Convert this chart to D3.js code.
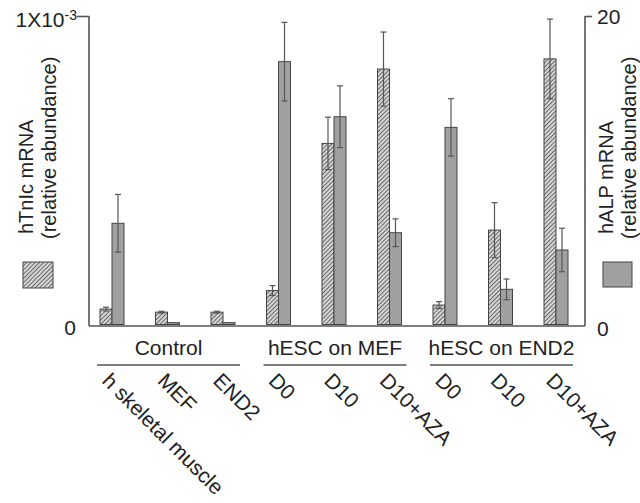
<!DOCTYPE html>
<html>
<head>
<meta charset="utf-8">
<script src="https://cdn.jsdelivr.net/npm/d3@7"></script>
<style>
  body { margin: 0; background: #fff; }
  text { font-family: "Liberation Sans", Arial, sans-serif; fill: #222; }
</style>
</head>
<body>
<script>
var categories = ["h skeletal muscle", "MEF", "END2", "D0", "D10", "D10+AZA", "D0", "D10", "D10+AZA"];
var groups = [
  {name: "Control", from: 0, to: 2},
  {name: "hESC on MEF", from: 3, to: 5},
  {name: "hESC on END2", from: 6, to: 8}
];
// hTnIc mRNA, relative abundance (x 1e-3)
var tnic = [0.050, 0.040, 0.040, 0.110, 0.587, 0.828, 0.063, 0.306, 0.861];
var tnicErr = [0.006, 0.003, 0.003, 0.016, 0.085, 0.120, 0.011, 0.089, 0.129];
// hALP mRNA, relative abundance
var alp = [6.56, 0.12, 0.12, 17.04, 13.47, 5.95, 12.78, 2.28, 4.83];
var alpErr = [1.87, 0, 0, 2.55, 2.0, 0.9, 1.86, 0.67, 1.41];

var width = 640, height = 503;
var top_y = 16, base_y = 324.5;
var bar_w = 12;

var svg = d3.select("body").append("svg")
    .attr("width", width).attr("height", height);

var defs = svg.append("defs");
var pat = defs.append("pattern")
    .attr("id", "hatch")
    .attr("patternUnits", "userSpaceOnUse")
    .attr("width", 3).attr("height", 3)
    .attr("patternTransform", "rotate(45)");
pat.append("rect").attr("width", 3).attr("height", 3).attr("fill", "#d6d6d6");
pat.append("line").attr("x1", 0).attr("y1", 0).attr("x2", 0).attr("y2", 3)
    .attr("stroke", "#383838").attr("stroke-width", 1.4);

var x = d3.scaleBand().domain(d3.range(categories.length)).range([84.25, 583.75]);
var yL = d3.scaleLinear().domain([0, 1e-3]).range([base_y, top_y]);
var yR = d3.scaleLinear().domain([0, 20]).range([base_y, top_y]);

function cx(i) { return x(i) + x.bandwidth() / 2; }

// bars
var g = svg.append("g");
g.selectAll("rect.tnic")
    .data(tnic)
    .enter().append("rect")
    .attr("class", "tnic")
    .attr("x", function(d, i) { return cx(i) - bar_w; })
    .attr("y", function(d) { return yL(d * 1e-3); })
    .attr("width", bar_w)
    .attr("height", function(d) { return base_y - yL(d * 1e-3); })
    .attr("fill", "url(#hatch)")
    .attr("stroke", "#444").attr("stroke-width", 1);

g.selectAll("rect.alp")
    .data(alp)
    .enter().append("rect")
    .attr("class", "alp")
    .attr("x", function(d, i) { return cx(i); })
    .attr("y", function(d) { return yR(d); })
    .attr("width", bar_w)
    .attr("height", function(d) { return base_y - yR(d); })
    .attr("fill", "#a0a0a0")
    .attr("stroke", "#444").attr("stroke-width", 1);

// error bars
function errBars(vals, errs, scale, mult, off) {
  vals.forEach(function(v, i) {
    var e = errs[i];
    if (!e) return;
    var xc = cx(i) + off;
    var y1 = scale((v + e) * mult), y2 = scale((v - e) * mult);
    g.append("line").attr("x1", xc).attr("x2", xc).attr("y1", y1).attr("y2", y2)
        .attr("stroke", "#555").attr("stroke-width", 1.2);
    [y1, y2].forEach(function(yy) {
      g.append("line").attr("x1", xc - 3).attr("x2", xc + 3).attr("y1", yy).attr("y2", yy)
          .attr("stroke", "#555").attr("stroke-width", 1.2);
    });
  });
}
errBars(tnic, tnicErr, yL, 1e-3, -bar_w / 2);
errBars(alp, alpErr, yR, 1, bar_w / 2);

// axes
var axisL = d3.axisLeft(yL).tickValues([1e-3]).tickSize(12).tickSizeOuter(0).tickFormat("");
var axisR = d3.axisRight(yR).tickValues([20]).tickSize(7).tickSizeOuter(0).tickFormat("");
var gl = svg.append("g").attr("transform", "translate(89,0)").call(axisL);
var gr = svg.append("g").attr("transform", "translate(585,0)").call(axisR);
[gl, gr].forEach(function(a) {
  a.selectAll("path, line").attr("stroke", "#555").attr("stroke-width", 1.6);
  a.select(".domain").attr("d", "M0," + top_y + "V326");
});
svg.append("line").attr("x1", 89).attr("x2", 585).attr("y1", 326).attr("y2", 326)
    .attr("stroke", "#555").attr("stroke-width", 1.6);

// tick labels
var t1 = svg.append("text").attr("x", 77).attr("y", 27).attr("text-anchor", "end")
    .style("font-size", "21px");
t1.append("tspan").text("1X10");
t1.append("tspan").attr("dy", -7).style("font-size", "14px").text("-3");
svg.append("text").attr("x", 70).attr("y", 335).attr("text-anchor", "middle")
    .style("font-size", "21px").text("0");
svg.append("text").attr("x", 597).attr("y", 24).style("font-size", "21px").text("20");
svg.append("text").attr("x", 597).attr("y", 336).style("font-size", "21px").text("0");

// axis titles
function vlab(xx, yy, txt) {
  svg.append("text").attr("transform", "translate(" + xx + "," + yy + ") rotate(-90)")
      .style("font-size", "20px").text(txt);
}
vlab(33, 234, "hTnIc mRNA");
vlab(56, 239, "(relative abundance)");
vlab(613, 234, "hALP mRNA");
vlab(636, 239, "(relative abundance)");

// legend swatches
svg.append("rect").attr("x", 23).attr("y", 262).attr("width", 30).attr("height", 26)
    .attr("fill", "url(#hatch)").attr("stroke", "#444");
svg.append("rect").attr("x", 603).attr("y", 262).attr("width", 29).attr("height", 25)
    .attr("fill", "#a0a0a0").attr("stroke", "#444");

// group labels
groups.forEach(function(gp) {
  var a = cx(gp.from) - 15, b = cx(gp.to) + 17;
  svg.append("line").attr("x1", a).attr("x2", b).attr("y1", 365).attr("y2", 365)
      .attr("stroke", "#555").attr("stroke-width", 1.4);
  svg.append("text").attr("x", (a + b) / 2).attr("y", 355).attr("text-anchor", "middle")
      .style("font-size", "21px").text(gp.name);
});

// category labels
svg.selectAll("text.cat")
    .data(categories)
    .enter().append("text")
    .attr("class", "cat")
    .attr("transform", function(d, i) { return "translate(" + (cx(i) - 11) + ",382) rotate(45)"; })
    .style("font-size", "21px")
    .text(function(d) { return d; });
</script>
</body>
</html>
